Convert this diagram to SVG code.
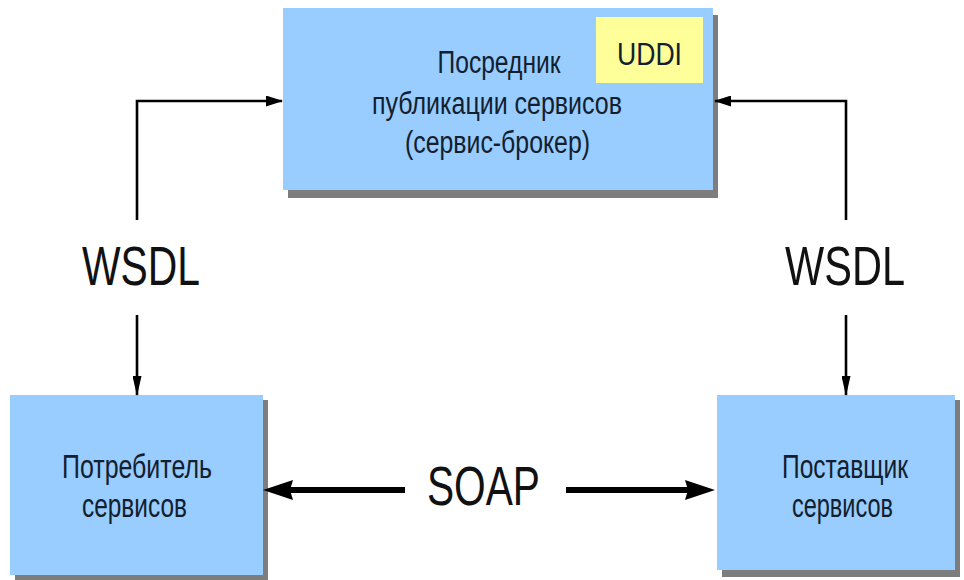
<svg xmlns="http://www.w3.org/2000/svg" width="964" height="580" viewBox="0 0 964 580">
<style>
.box{fill:#99ccff;}
.sh{fill:#7d7d7d;}
.t{font-family:"Liberation Sans",Arial,sans-serif;fill:#12202e;text-anchor:middle;}
.lbl{font-family:"Liberation Sans",Arial,sans-serif;fill:#111;text-anchor:middle;font-size:56px;}
.ln{fill:none;stroke:#000;stroke-width:2.6;}
</style>
<defs>
<marker id="ah" markerUnits="userSpaceOnUse" viewBox="0 0 17 11" refX="16" refY="5.5" markerWidth="17" markerHeight="11" orient="auto">
<path d="M0,0 L17,5.5 L0,11 z" fill="#000"/>
</marker>
<marker id="av" markerUnits="userSpaceOnUse" viewBox="0 0 20 9" refX="19" refY="4.5" markerWidth="20" markerHeight="9" orient="auto">
<path d="M0,0 L20,4.5 L0,9 z" fill="#000"/>
</marker>
</defs>
<rect width="964" height="580" fill="#fff"/>
<g id="broker">
<rect class="sh" x="288" y="15" width="430" height="183"/>
<rect class="box" x="283" y="8" width="430" height="182"/>
<rect x="596" y="17" width="107" height="66" fill="#ffff99"/>
<text class="t" x="649.5" y="65" font-size="32" textLength="65" lengthAdjust="spacingAndGlyphs">UDDI</text>
<text class="t" x="499" y="73" font-size="31" textLength="123" lengthAdjust="spacingAndGlyphs">Посредник</text>
<text class="t" x="497" y="114" font-size="31" textLength="250" lengthAdjust="spacingAndGlyphs">публикации сервисов</text>
<text class="t" x="497.5" y="153" font-size="31" textLength="185" lengthAdjust="spacingAndGlyphs">(сервис-брокер)</text>
</g>
<g id="consumer">
<rect class="sh" x="15" y="400" width="253" height="180"/>
<rect class="box" x="10" y="395" width="253" height="180"/>
<text class="t" x="137" y="478" font-size="33" textLength="150" lengthAdjust="spacingAndGlyphs">Потребитель</text>
<text class="t" x="134.5" y="517" font-size="33" textLength="105" lengthAdjust="spacingAndGlyphs">сервисов</text>
</g>
<g id="provider">
<rect class="sh" x="722" y="400" width="238" height="177"/>
<rect class="box" x="717" y="395" width="238" height="175"/>
<text class="t" x="845" y="478" font-size="33" textLength="126" lengthAdjust="spacingAndGlyphs">Поставщик</text>
<text class="t" x="842.5" y="517" font-size="33" textLength="101" lengthAdjust="spacingAndGlyphs">сервисов</text>
</g>
<g id="connectors">
<path class="ln" d="M137,220 V101 H282" marker-end="url(#ah)"/>
<path class="ln" d="M137,315 V395" marker-end="url(#av)"/>
<path class="ln" d="M846,220 V101 H715" marker-end="url(#ah)"/>
<path class="ln" d="M846,315 V395" marker-end="url(#av)"/>
<line x1="405" y1="490" x2="285" y2="490" stroke="#000" stroke-width="6"/>
<polygon points="263,490 293,480 290,490 293,500" fill="#000"/>
<line x1="566" y1="490" x2="693" y2="490" stroke="#000" stroke-width="6"/>
<polygon points="715,490 685,480 688,490 685,500" fill="#000"/>
<text class="lbl" x="141" y="285" textLength="118" lengthAdjust="spacingAndGlyphs">WSDL</text>
<text class="lbl" x="845" y="285" textLength="120" lengthAdjust="spacingAndGlyphs">WSDL</text>
<text class="lbl" x="483.5" y="505" textLength="113" lengthAdjust="spacingAndGlyphs">SOAP</text>
</g>
</svg>
